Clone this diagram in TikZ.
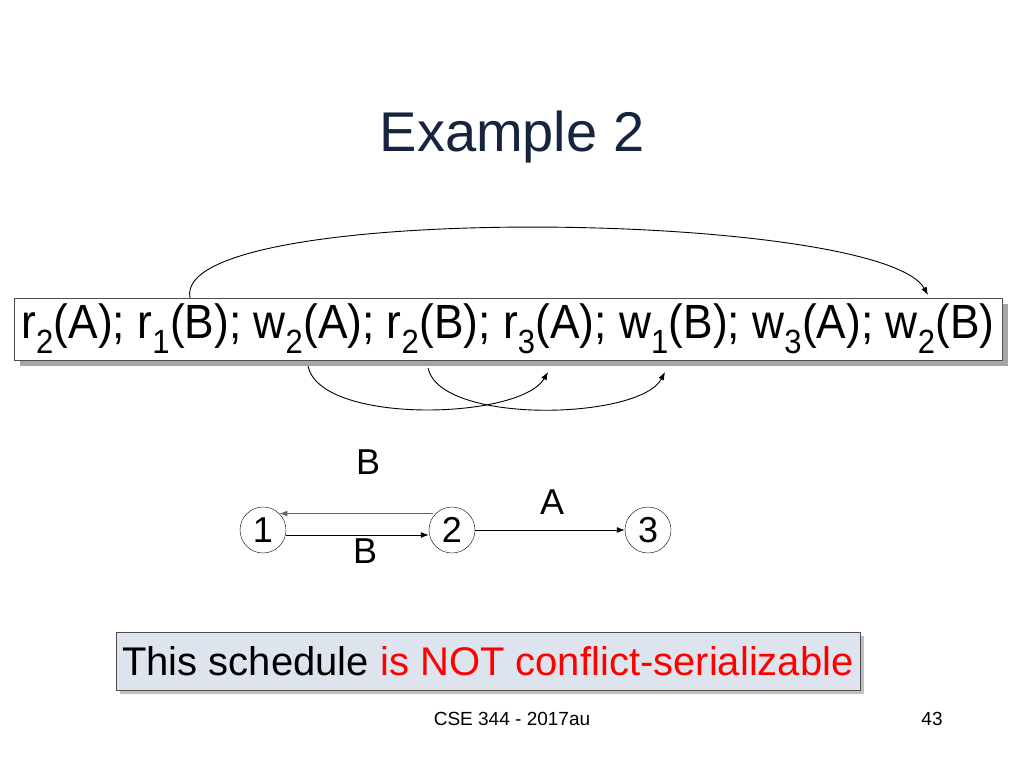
\documentclass[tikz,border=0pt]{standalone}
\usepackage{fontspec}
\setmainfont{Liberation Sans}
\usetikzlibrary{arrows.meta, positioning, shadows}
\definecolor{titleblue}{HTML}{17243D}
\definecolor{boxfill}{HTML}{DDE4EE}
\tikzstyle{schedule} = [
  rectangle, draw=black!70, fill=white, inner sep=0pt,
  minimum width=988pt, minimum height=62pt,
  drop shadow={shadow xshift=6pt, shadow yshift=-6pt, fill=black!70}
]
\tikzstyle{txn} = [
  circle, draw=black, minimum size=46pt, inner sep=0pt, font=\fontsize{36}{38}\selectfont
]
\tikzstyle{verdict} = [
  rectangle, draw=black!70, fill=boxfill, inner sep=0pt,
  minimum width=744pt, minimum height=58pt,
  drop shadow={shadow xshift=4pt, shadow yshift=-4pt, fill=black!50}
]
\tikzset{
  arrow/.style={
    line width=0.9pt,
    -{Latex[length=8pt,width=6pt]}
  }
}

\begin{document}
\begin{tikzpicture}[x=1pt, y=-1pt]
\useasboundingbox (0,0) rectangle (1024,768);

% ------------------------------------------------
% TITULO
% ------------------------------------------------

\node[text=titleblue, font=\fontsize{56}{60}\selectfont] (title) at (512,137) {Example 2};

% ------------------------------------------------
% PLANIFICACION
% ------------------------------------------------

\node[schedule] (sched) at (508,329) {%
  \resizebox{973pt}{\height}{\fontsize{48}{50}\selectfont
  r\textsubscript{2}(A); r\textsubscript{1}(B); w\textsubscript{2}(A); r\textsubscript{2}(B); r\textsubscript{3}(A); w\textsubscript{1}(B); w\textsubscript{3}(A); w\textsubscript{2}(B)}
};

\coordinate (ra2) at (190,298);
\coordinate (wb2) at (928,295);
\coordinate (wa2) at (308,366);
\coordinate (ra3) at (548,372);
\coordinate (rb2) at (428,368);
\coordinate (wb1) at (665,372);

% ------------------------------------------------
% FLECHAS DE CONFLICTO
% ------------------------------------------------

\draw[arrow] (ra2) .. controls (170,200) and (880,210) .. (wb2);
\draw[arrow] (wa2) .. controls (320,425) and (520,420) .. (ra3);
\draw[arrow] (rb2) .. controls (440,425) and (640,420) .. (wb1);

% ------------------------------------------------
% GRAFO DE PRECEDENCIA
% ------------------------------------------------

\node[txn] (t1) at (263,530) {1};
\node[txn] (t2) at (452,530) {2};
\node[txn] (t3) at (648,530) {3};

\path (t1.east) ++(0,5) coordinate (t1e) (t2.west) ++(0,5) coordinate (t2w);
\draw[arrow] (t1e) -- (t2w);
\path (t2.north west) ++(-3,0) coordinate (t2n) (t1.north east) coordinate (t1n);
\draw[arrow, black!60] (t2n) -- (t1n);
\draw[arrow] (t2) -- (t3);

\node[font=\fontsize{36}{38}\selectfont] (lb1) at (368,462) {B};
\node[font=\fontsize{36}{38}\selectfont] (lb2) at (365,551) {B};
\node[font=\fontsize{36}{38}\selectfont] (la) at (552,502) {A};

% ------------------------------------------------
% CONCLUSION Y PIE
% ------------------------------------------------

\node[verdict] (verd) at (488,661) {%
  \fontsize{40}{44}\selectfont This schedule \textcolor{red}{is NOT conflict-serializable}
};

\node[font=\fontsize{19}{21}\selectfont] (foot) at (512,719) {CSE 344 - 2017au};
\node[font=\fontsize{19}{21}\selectfont] (page) at (932,719) {43};

\end{tikzpicture}
\end{document}
